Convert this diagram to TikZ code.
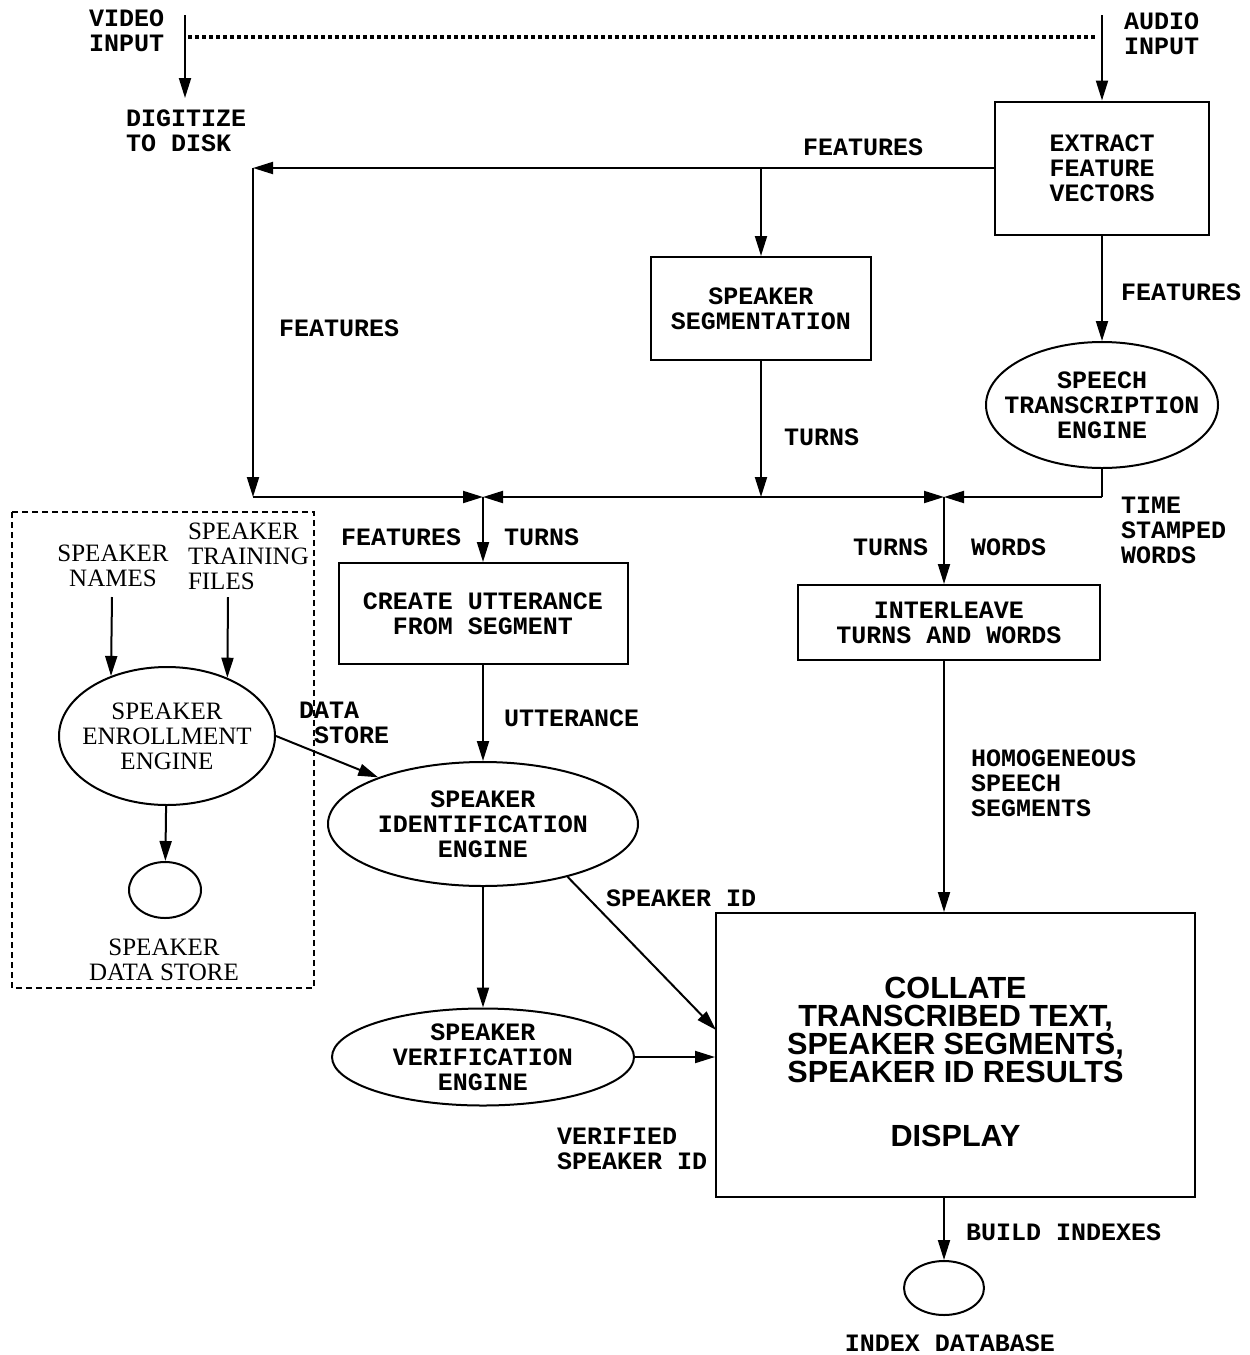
\documentclass[tikz,border=0pt]{standalone}
\usepackage{fontspec}
\setmainfont{Liberation Serif}
\newfontfamily\courfont{Liberation Mono}
\newfontfamily\helvfont{Liberation Sans}
\usepackage{tikz}
\usetikzlibrary{arrows.meta,shapes.geometric}

\begin{document}
\begin{tikzpicture}[
  x=0.5pt, y=-0.5pt,
  >={Triangle[length=10pt,width=6pt]},
  line width=1pt,
  arr/.style={->},
  lbl/.style={font=\courfont\bfseries\fontsize{12.5}{12.5}\selectfont, align=left, anchor=west, inner sep=0},
  rmlbl/.style={font=\fontsize{12.5}{12.5}\selectfont, align=center, inner sep=0},
  box/.style={draw, rectangle, inner sep=0, font=\courfont\bfseries\fontsize{12.5}{12.5}\selectfont, align=center},
  oval/.style={draw, ellipse, inner sep=0, font=\courfont\bfseries\fontsize{12.5}{12.5}\selectfont, align=center},
  store/.style={draw, ellipse, inner sep=0},
  dotline/.style={line width=2pt, dash pattern=on 2pt off 1.5pt},
  grpbox/.style={line width=0.75pt, dash pattern=on 3pt off 2pt},
]
\useasboundingbox (0,0) rectangle (1249,1355);

\node[box, minimum width=107pt, minimum height=66.5pt] (extract) at (1102,168) {EXTRACT\\FEATURE\\VECTORS};
\node[box, minimum width=110pt, minimum height=51.5pt] (seg) at (761,308.5) {SPEAKER\\SEGMENTATION};
\node[oval, minimum width=116pt, minimum height=63pt, inner xsep=-9pt] (speech) at (1102,405) {SPEECH\\TRANSCRIPTION\\ENGINE};
\node[box, minimum width=144.5pt, minimum height=50.5pt] (create) at (483,613.5) {CREATE UTTERANCE\\FROM SEGMENT};
\node[box, minimum width=151pt, minimum height=37.5pt] (inter) at (949,622.5) {INTERLEAVE\\TURNS AND WORDS};
\node[oval, minimum width=155pt, minimum height=62pt] (ident) at (483,824) {SPEAKER\\IDENTIFICATION\\ENGINE};
\node[oval, minimum width=151pt, minimum height=48.5pt] (verif) at (483,1057) {SPEAKER\\VERIFICATION\\ENGINE};
\node[oval, font=\fontsize{12.5}{12.5}\selectfont, minimum width=108pt, minimum height=69pt, inner xsep=-5pt] (enroll) at (167,736) {SPEAKER\\ENROLLMENT\\ENGINE};
\node[store, minimum width=36pt, minimum height=28pt] (spkstore) at (165,890) {};
\node[store, minimum width=40pt, minimum height=27pt] (index) at (944,1288) {};
\node[box, font=\helvfont\bfseries\fontsize{15.3}{14}\selectfont, minimum width=239.5pt, minimum height=142pt] (collate) at (955.5,1055) {\rule{0pt}{18pt}COLLATE\\TRANSCRIBED TEXT,\\SPEAKER SEGMENTS,\\SPEAKER ID RESULTS\\[18pt]DISPLAY};

\node[lbl] (vidin) at (88,30.5) {VIDEO\\INPUT};
\node[lbl] (audin) at (1123,33.5) {AUDIO\\INPUT};
\node[lbl] (digit) at (125,131) {DIGITIZE\\TO DISK};
\node[lbl] (ftop) at (802,147) {FEATURES};
\node[lbl] (fleft) at (278,328) {FEATURES};
\node[lbl] (fright) at (1120,292) {FEATURES};
\node[lbl] (tseg) at (783,437) {TURNS};
\node[lbl] (tsw) at (1120,530.5) {TIME\\STAMPED\\WORDS};
\node[lbl] (fjun) at (340,537) {FEATURES};
\node[lbl] (tjun) at (503,537) {TURNS};
\node[lbl] (tjun2) at (852,547) {TURNS};
\node[lbl] (wjun) at (970,547) {WORDS};
\node[lbl] (utt) at (503,718) {UTTERANCE};
\node[lbl] (dstore) at (298,723) {DATA\\\ STORE};
\node[lbl] (homog) at (970,783) {HOMOGENEOUS\\SPEECH\\SEGMENTS};
\node[lbl] (spkid) at (605,898) {SPEAKER ID};
\node[lbl] (verid) at (556,1149) {VERIFIED\\SPEAKER ID};
\node[lbl] (build) at (965,1232) {BUILD INDEXES};
\node[lbl, anchor=center] (idxdb) at (950,1343) {INDEX DATABASE};
\node[rmlbl] (names) at (113,565.5) {SPEAKER\\NAMES};
\node[rmlbl, align=left, anchor=west] (train) at (187,556) {SPEAKER\\TRAINING\\FILES};
\node[rmlbl] (dsname) at (164,960) {SPEAKER\\DATA STORE};

\coordinate (vidtop) at (185,15);
\coordinate (vidend) at (185,98);
\coordinate (dotL) at (188,37);
\coordinate (dotR) at (1095,37);
\coordinate (audtop) at (1102,15);
\coordinate (fcorner) at (253,168);
\coordinate (jA) at (253,497);
\coordinate (jC) at (483,497);
\coordinate (jB) at (761,497);
\coordinate (jD) at (944,497);
\coordinate (jE) at (1102,497);
\coordinate (nameA) at (112,597);
\coordinate (trainA) at (228,597);
\coordinate (idtip) at (716,1030);

\draw[arr] (vidtop) -- (vidend);
\draw[dotline] (dotL) -- (dotR);
\draw[arr] (audtop) -- (extract);
\draw[arr] (extract.west) -- (fcorner);
\draw[arr] (fcorner) -- (jA);
\draw[arr] (seg.north |- fcorner) -- (seg);
\draw[arr] (seg) -- (jB);
\draw[arr] (jA) -- (jC);
\draw[arr] (jB) -- (jC);
\draw[arr] (jB) -- (jD);
\draw (speech) -- (jE);
\draw[arr] (jE) -- (jD);
\draw[arr] (jC) -- (create);
\draw[arr] (jD) -- (jD |- inter.north);
\draw[arr] (extract) -- (speech);
\draw[arr] (create) -- (ident);
\draw[arr] (ident) -- (verif);
\draw[arr] (verif) -- (verif -| collate.west);
\draw[arr] (ident.-32) -- (idtip);
\draw[arr] (enroll.east) -- (ident.156);
\draw[arr] (nameA) -- (enroll.133.5);
\draw[arr] (trainA) -- (enroll.44.5);
\draw[arr] (enroll) -- (spkstore);
\draw[arr] (jD |- inter.south) -- (jD |- collate.north);
\draw[arr] (jD |- collate.south) -- (index);
\draw[grpbox] (12,512) rectangle (314,988);

\end{tikzpicture}
\end{document}
